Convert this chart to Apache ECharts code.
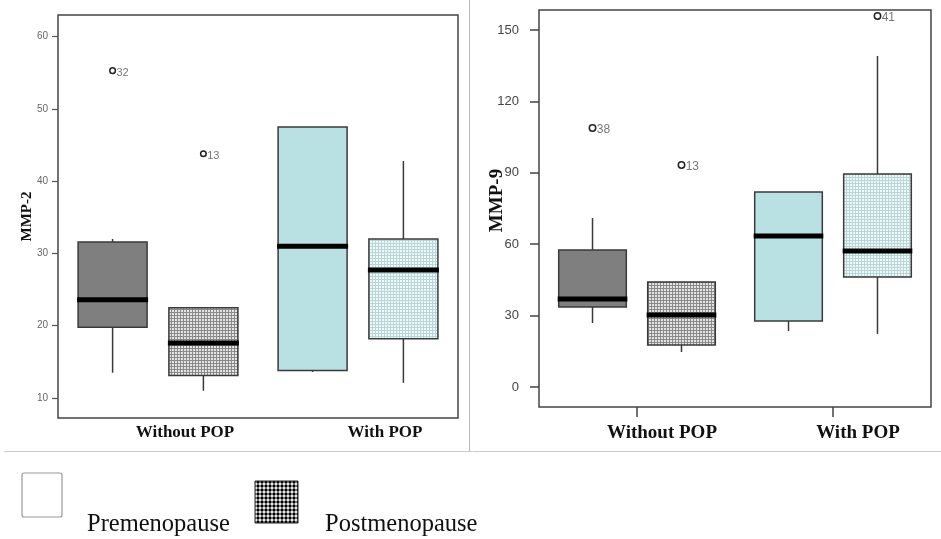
<!DOCTYPE html>
<html>
<head>
<meta charset="utf-8">
<script src="https://cdn.jsdelivr.net/npm/echarts@6/dist/echarts.min.js"></script>
<style>
  html, body { margin: 0; padding: 0; background: #fff; }
  #chart { width: 941px; height: 539px; }
</style>
</head>
<body>
<div id="chart"></div>
<script>
var categories = ['Without POP', 'With POP'];

// [low whisker, Q1, median, Q3, high whisker] per category
var mmp2Pre = [[13.5, 19.8, 23.6, 31.6, 32.0], [13.6, 13.8, 31.0, 47.5, 47.5]];
var mmp2Post = [[11.0, 13.1, 17.6, 22.5, 22.5], [12.1, 18.2, 27.7, 32.0, 42.8]];
var mmp9Pre = [[26.9, 33.6, 37.0, 57.6, 71.0], [23.5, 27.7, 63.4, 81.9, 81.9]];
var mmp9Post = [[14.7, 17.6, 30.3, 44.1, 44.1], [22.3, 46.2, 57.1, 89.5, 139.1]];

// outliers: [category index, value, case number]
var mmp2PreOut = [[0, 55.3, 32]];
var mmp2PostOut = [[0, 43.8, 13]];
var mmp9PreOut = [[0, 108.8, 38]];
var mmp9PostOut = [[0, 93.3, 13], [1, 155.9, 41]];

var mmp2Ticks = [10, 20, 30, 40, 50, 60];
var mmp9Ticks = [0, 30, 60, 90, 120, 150];

(function () {
    var chartDom = document.getElementById('chart');
    var myChart = echarts.init(chartDom);

    // small grid pattern used for the postmenopause boxes
    function gridPattern(bg, line) {
        var c = document.createElement('canvas');
        c.width = 3;
        c.height = 3;
        var ctx = c.getContext('2d');
        ctx.fillStyle = bg;
        ctx.fillRect(0, 0, 3, 3);
        ctx.fillStyle = line;
        ctx.fillRect(0, 0, 3, 1);
        ctx.fillRect(0, 0, 1, 3);
        return { image: c, repeat: 'repeat' };
    }
    function dotPattern() {
        var c = document.createElement('canvas');
        c.width = 4;
        c.height = 4;
        var ctx = c.getContext('2d');
        ctx.fillStyle = '#fff';
        ctx.fillRect(0, 0, 4, 4);
        ctx.fillStyle = '#000';
        ctx.beginPath();
        ctx.arc(2, 2, 1.7, 0, Math.PI * 2);
        ctx.fill();
        return { image: c, repeat: 'repeat' };
    }

    var fills = {
        pre: ['#7f7f7f', '#b9e0e2'],
        post: [gridPattern('#e4e4e4', '#8a8a8a'), gridPattern('#eef8f8', '#b9d6d6')]
    };
    var offsetFrac = 0.227;
    var widthFrac = 0.345;

    function boxRenderer(side) {
        var key = side < 0 ? 'pre' : 'post';
        return function (params, api) {
            var cat = api.value(0);
            var band = api.size([1, 0])[0];
            var cx = api.coord([cat, 0])[0] + side * offsetFrac * band;
            var half = widthFrac * band / 2;
            var y = function (i) { return api.coord([cat, api.value(i)])[1]; };
            var lo = y(1), q1 = y(2), md = y(3), q3 = y(4), hi = y(5);
            var stroke = { stroke: '#3a3a3a', lineWidth: 1.5 };
            return {
                type: 'group',
                children: [
                    { type: 'line', shape: { x1: cx, y1: q3, x2: cx, y2: hi }, style: stroke },
                    { type: 'line', shape: { x1: cx, y1: q1, x2: cx, y2: lo }, style: stroke },
                    {
                        type: 'rect',
                        shape: { x: cx - half, y: q3, width: half * 2, height: q1 - q3 },
                        style: { fill: fills[key][cat], stroke: '#3a3a3a', lineWidth: 1.5 }
                    },
                    {
                        type: 'line',
                        shape: { x1: cx - half - 1, y1: md, x2: cx + half + 1, y2: md },
                        style: { stroke: '#000', lineWidth: 5 }
                    }
                ]
            };
        };
    }

    function outlierRenderer(side, r, fontSize) {
        return function (params, api) {
            var cat = api.value(0);
            var band = api.size([1, 0])[0];
            var p = api.coord([cat, api.value(1)]);
            var cx = p[0] + side * offsetFrac * band;
            return {
                type: 'group',
                children: [
                    {
                        type: 'circle',
                        shape: { cx: cx, cy: p[1], r: r },
                        style: { fill: '#fff', stroke: '#222', lineWidth: 1.5 }
                    },
                    {
                        type: 'text',
                        style: {
                            x: cx + r + 1, y: p[1] + 2,
                            text: String(api.value(2)),
                            fill: '#777', fontSize: fontSize,
                            fontFamily: 'Liberation Sans',
                            verticalAlign: 'middle'
                        }
                    }
                ]
            };
        };
    }

    function withIndex(rows) {
        return rows.map(function (r, i) { return [i].concat(r); });
    }

    var serifBold = { fontFamily: 'Liberation Serif', fontWeight: 'bold', color: '#111' };

    var option = {
        animation: false,
        grid: [
            { left: 58, top: 15, width: 400, height: 403, show: true, borderColor: '#444', borderWidth: 1.5, outerBoundsMode: 'none' },
            { left: 539, top: 10, width: 392, height: 397, show: true, borderColor: '#444', borderWidth: 1.5, outerBoundsMode: 'none' }
        ],
        xAxis: [
            {
                gridIndex: 0, type: 'category', data: categories,
                axisLine: { show: false, onZero: false }, axisTick: { show: false },
                axisLabel: Object.assign({ fontSize: 17, margin: 6, padding: [0, 0, 0, 54] }, serifBold)
            },
            {
                gridIndex: 1, type: 'category', data: categories,
                axisLine: { show: false, onZero: false },
                axisTick: { show: true, alignWithLabel: true, length: 10, lineStyle: { color: '#444', width: 1.5 } },
                axisLabel: Object.assign({ fontSize: 19, margin: 17, padding: [0, 0, 0, 50] }, serifBold)
            }
        ],
        yAxis: [
            {
                gridIndex: 0, type: 'value', min: 7.23, max: 63,
                name: 'MMP-2', nameLocation: 'middle', nameGap: 23, nameMoveOverlap: false,
                nameTextStyle: Object.assign({ fontSize: 15 }, serifBold),
                axisLine: { show: false }, splitLine: { show: false },
                axisTick: { show: true, length: 6, customValues: mmp2Ticks, lineStyle: { color: '#555', width: 1.2 } },
                axisLabel: { customValues: mmp2Ticks, fontSize: 10, color: '#666', margin: 10, fontFamily: 'Liberation Sans' }
            },
            {
                gridIndex: 1, type: 'value', min: -8.4, max: 158.4,
                name: 'MMP-9', nameLocation: 'middle', nameGap: 32, nameMoveOverlap: false,
                nameTextStyle: Object.assign({ fontSize: 19, padding: [0, 0, 0, 16] }, serifBold),
                axisLine: { show: false }, splitLine: { show: false },
                axisTick: { show: true, length: 9, customValues: mmp9Ticks, lineStyle: { color: '#444', width: 1.5 } },
                axisLabel: { customValues: mmp9Ticks, fontSize: 13, color: '#444', margin: 20, fontFamily: 'Liberation Sans' }
            }
        ],
        series: [
            { name: 'Premenopause', type: 'custom', xAxisIndex: 0, yAxisIndex: 0, renderItem: boxRenderer(-1), data: withIndex(mmp2Pre) },
            { name: 'Postmenopause', type: 'custom', xAxisIndex: 0, yAxisIndex: 0, renderItem: boxRenderer(1), data: withIndex(mmp2Post) },
            { type: 'custom', xAxisIndex: 0, yAxisIndex: 0, renderItem: outlierRenderer(-1, 2.8, 11), data: mmp2PreOut },
            { type: 'custom', xAxisIndex: 0, yAxisIndex: 0, renderItem: outlierRenderer(1, 2.8, 11), data: mmp2PostOut },
            { name: 'Premenopause', type: 'custom', xAxisIndex: 1, yAxisIndex: 1, renderItem: boxRenderer(-1), data: withIndex(mmp9Pre) },
            { name: 'Postmenopause', type: 'custom', xAxisIndex: 1, yAxisIndex: 1, renderItem: boxRenderer(1), data: withIndex(mmp9Post) },
            { type: 'custom', xAxisIndex: 1, yAxisIndex: 1, renderItem: outlierRenderer(-1, 3.2, 12), data: mmp9PreOut },
            { type: 'custom', xAxisIndex: 1, yAxisIndex: 1, renderItem: outlierRenderer(1, 3.2, 12), data: mmp9PostOut }
        ],
        graphic: [
            { type: 'line', shape: { x1: 469.5, y1: 0, x2: 469.5, y2: 451 }, style: { stroke: '#bbb', lineWidth: 1 } },
            { type: 'line', shape: { x1: 4, y1: 451.5, x2: 941, y2: 451.5 }, style: { stroke: '#ccc', lineWidth: 1 } },
            { type: 'rect', shape: { x: 22, y: 473, width: 40, height: 44, r: 2 }, style: { fill: '#fff', stroke: '#999', lineWidth: 1.2 } },
            { type: 'text', style: { x: 87, y: 525, text: 'Premenopause', fontFamily: 'Liberation Serif', fontSize: 24.5, fill: '#111', verticalAlign: 'middle' } },
            { type: 'rect', shape: { x: 255, y: 481, width: 43, height: 42 }, style: { fill: dotPattern(), stroke: '#222', lineWidth: 1 } },
            { type: 'text', style: { x: 325, y: 525, text: 'Postmenopause', fontFamily: 'Liberation Serif', fontSize: 24.5, fill: '#111', verticalAlign: 'middle' } }
        ]
    };

    myChart.setOption(option);
    window.addEventListener('resize', function () {
        myChart.resize();
    });
})();
</script>
</body>
</html>
